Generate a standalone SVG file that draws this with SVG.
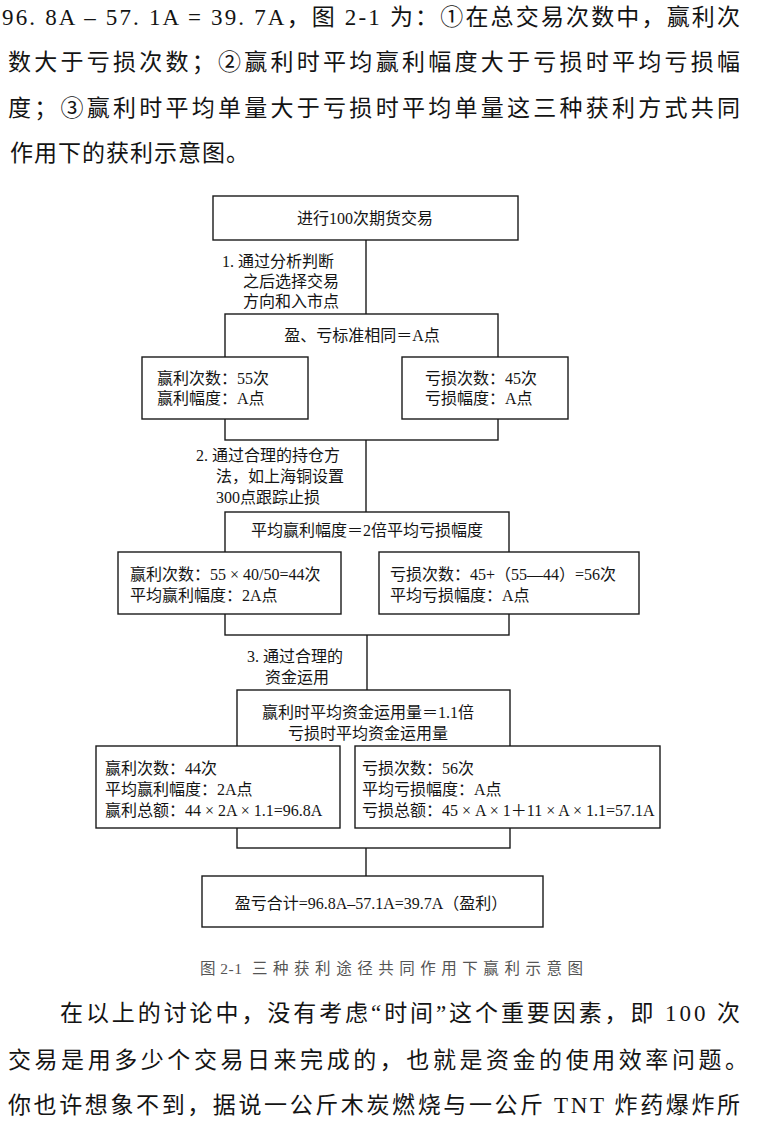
<svg xmlns="http://www.w3.org/2000/svg" width="758" height="1128" viewBox="0 0 758 1128">
<style>
.p{font-family:"Liberation Serif","Noto Sans CJK SC",serif;font-size:23px;fill:#141414}
.t{font-family:"Liberation Serif","Noto Sans CJK SC",serif;font-size:16px;fill:#141414}
.c{text-anchor:middle}
.cap{font-family:"Liberation Serif","Noto Sans CJK SC",serif;font-size:15.5px;fill:#555}
.box{fill:#fff;stroke:#1a1a1a;stroke-width:1.4}
.ln{stroke:#1a1a1a;stroke-width:1.4;fill:none}
</style>
<rect width="758" height="1128" fill="#fff"/>
<g id="para-top">
<text class="p" x="2" y="25" textLength="738" lengthAdjust="spacing">96. 8A – 57. 1A = 39. 7A，图 2-1 为：①在总交易次数中，赢利次</text>
<text class="p" x="8" y="70" textLength="732" lengthAdjust="spacing">数大于亏损次数；②赢利时平均赢利幅度大于亏损时平均亏损幅</text>
<text class="p" x="8" y="116" textLength="732" lengthAdjust="spacing">度；③赢利时平均单量大于亏损时平均单量这三种获利方式共同</text>
<text class="p" x="10" y="161" letter-spacing="1">作用下的获利示意图。</text>
</g>
<g id="connectors">
<line class="ln" x1="366" y1="240" x2="366" y2="314"/>
<line class="ln" x1="366" y1="440" x2="366" y2="512"/>
<line class="ln" x1="367" y1="635" x2="367" y2="690"/>
<line class="ln" x1="366" y1="848" x2="366" y2="876"/>
</g>
<g id="label-1">
<text class="t" x="222" y="267">1. 通过分析判断</text>
<text class="t" x="243" y="287">之后选择交易</text>
<text class="t" x="243" y="307">方向和入市点</text>
</g>
<g id="label-2">
<text class="t" x="196" y="461">2. 通过合理的持仓方</text>
<text class="t" x="216" y="482">法，如上海铜设置</text>
<text class="t" x="216" y="503">300点跟踪止损</text>
</g>
<g id="label-3">
<text class="t" x="247" y="662">3. 通过合理的</text>
<text class="t" x="265" y="683">资金运用</text>
</g>
<g id="n-start">
<rect class="box" x="213" y="196" width="305" height="44"/>
<text class="t c" x="365" y="224">进行100次期货交易</text>
</g>
<g id="n-stage1">
<rect class="box" x="225" y="314" width="273" height="126"/>
<text class="t c" x="362" y="341">盈、亏标准相同＝A点</text>
</g>
<g id="n-win1">
<rect class="box" x="142" y="357" width="166" height="62"/>
<text class="t" x="157" y="384">赢利次数：55次</text>
<text class="t" x="157" y="404">赢利幅度：A点</text>
</g>
<g id="n-loss1">
<rect class="box" x="402" y="357" width="166" height="62"/>
<text class="t" x="425" y="384">亏损次数：45次</text>
<text class="t" x="425" y="404">亏损幅度：A点</text>
</g>
<g id="n-stage2">
<rect class="box" x="225" y="512" width="284" height="123"/>
<text class="t c" x="367" y="536">平均赢利幅度＝2倍平均亏损幅度</text>
</g>
<g id="n-win2">
<rect class="box" x="118" y="552" width="223" height="62"/>
<text class="t" x="130" y="580">赢利次数：55 × 40/50=44次</text>
<text class="t" x="130" y="601">平均赢利幅度：2A点</text>
</g>
<g id="n-loss2">
<rect class="box" x="379" y="552" width="260" height="62"/>
<text class="t" x="390" y="580">亏损次数：45+（55—44）=56次</text>
<text class="t" x="390" y="601">平均亏损幅度：A点</text>
</g>
<g id="n-stage3">
<rect class="box" x="237" y="690" width="273" height="158"/>
<text class="t c" x="368" y="718">赢利时平均资金运用量＝1.1倍</text>
<text class="t c" x="368" y="739">亏损时平均资金运用量</text>
</g>
<g id="n-win3">
<rect class="box" x="96" y="746" width="244" height="82"/>
<text class="t" x="105" y="774">赢利次数：44次</text>
<text class="t" x="105" y="795">平均赢利幅度：2A点</text>
<text class="t" x="105" y="816">赢利总额：44 × 2A × 1.1=96.8A</text>
</g>
<g id="n-loss3">
<rect class="box" x="355" y="746" width="305" height="82"/>
<text class="t" x="362" y="774">亏损次数：56次</text>
<text class="t" x="362" y="795">平均亏损幅度：A点</text>
<text class="t" x="362" y="816">亏损总额：45 × A × 1＋11 × A × 1.1=57.1A</text>
</g>
<g id="n-total">
<rect class="box" x="202" y="876" width="341" height="51"/>
<text class="t c" x="371" y="909">盈亏合计=96.8A–57.1A=39.7A（盈利）</text>
</g>
<g id="caption">
<text class="cap" x="200" y="974" textLength="42" lengthAdjust="spacing">图 2-1</text>
<text class="cap" x="252" y="974" textLength="331" lengthAdjust="spacing">三种获利途径共同作用下赢利示意图</text>
</g>
<g id="para-bottom">
<text class="p" x="60" y="1021" textLength="680" lengthAdjust="spacing">在以上的讨论中，没有考虑“时间”这个重要因素，即 100 次</text>
<text class="p" x="8" y="1068" textLength="740" lengthAdjust="spacing">交易是用多少个交易日来完成的，也就是资金的使用效率问题。</text>
<text class="p" x="8" y="1113" textLength="732" lengthAdjust="spacing">你也许想象不到，据说一公斤木炭燃烧与一公斤 TNT 炸药爆炸所</text>
</g>
</svg>
